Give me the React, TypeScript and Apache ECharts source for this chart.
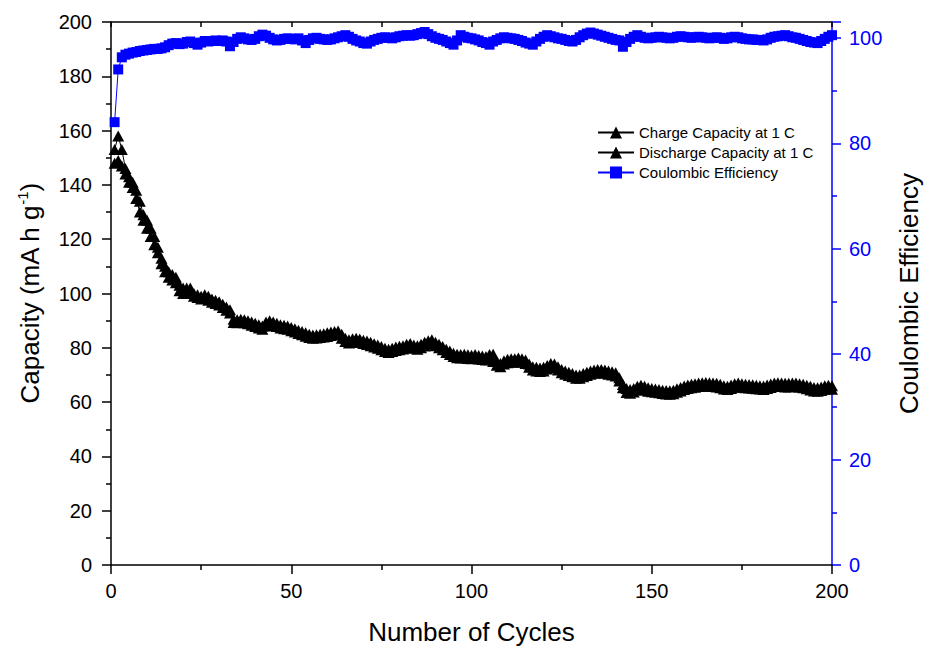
import React, { useEffect, useRef } from "react";
import * as echarts from "echarts";

const charge: number[] = [
  153, 158, 153, 146, 143, 141, 138, 134, 129, 127,
  124, 121, 117, 113, 110, 108, 107, 106, 103, 102,
  102, 102, 100, 99.5, 99, 99.5, 99, 98, 97.5, 97,
  96, 95, 94, 90.5, 90.3, 90.5, 90.3, 90, 89.5, 89,
  88.5, 88, 89.5, 90, 89.5, 89, 88.5, 88.3, 88, 87.5,
  87, 86.5, 86, 85.5, 85, 84.7, 84.8, 85, 85.2, 85.5,
  85.8, 86, 86.2, 85, 83.5, 83, 83.3, 83.5, 83.2, 82.8,
  82.5, 82, 81.5, 81, 80.5, 79.8, 79.5, 79.8, 80.3, 80.6,
  80.8, 81.3, 81.6, 81, 80.8, 81.3, 82, 82.6, 83, 82,
  81.3, 80.5, 79.5, 78.8, 78, 77.6, 77.5, 77.6, 77.4, 77.3,
  77.5, 77.2, 77, 76.8, 77.5, 77.6, 75, 74.2, 75.2, 75.8,
  76, 76, 76.2, 76, 75.5, 74, 73, 72.8, 72.6, 72.8,
  73.5, 74.2, 74, 73, 72, 71.5, 71, 70.5, 70, 70,
  70.5, 71, 71.5, 71.8, 72, 72, 71.8, 71.5, 71.2, 70.8,
  69, 66.5, 65, 64.6, 65, 65.8, 66.2, 65.8, 65.3, 65,
  64.8, 64.6, 64.4, 64.3, 64.2, 64.4, 64.9, 65.4, 65.9, 66.3,
  66.6, 66.8, 67, 67.1, 67.2, 67.1, 67, 66.9, 66.6, 66,
  65.8, 66.3, 66.8, 67, 66.8, 66.6, 66.5, 66.4, 66.2, 66,
  65.9, 66.3, 66.7, 67, 67.1, 67, 66.9, 66.9, 67, 67,
  66.8, 66.6, 66.2, 65.8, 65.4, 65.3, 65.6, 66, 66.2, 66,
];

const discharge: number[] = [
  148, 149, 147, 144, 141, 139, 135, 130, 127, 124,
  121, 118, 115, 111, 108, 106, 105, 104, 101, 100,
  100, 100, 99, 98.5, 98, 98.3, 97.5, 96.8, 96.3, 95.8,
  94.8, 93.8, 92.8, 89.3, 89.2, 89.4, 89.2, 88.9, 88.3, 87.8,
  87.3, 86.8, 88, 88.5, 88.2, 87.8, 87.3, 87, 86.8, 86.3,
  85.8, 85.3, 84.8, 84.3, 83.8, 83.5, 83.6, 83.8, 84, 84.2,
  84.5, 84.8, 85, 83.5, 82.3, 81.8, 82, 82.2, 82, 81.6,
  81.2, 80.8, 80.3, 79.8, 79.3, 78.6, 78.3, 78.6, 79, 79.3,
  79.6, 80, 80.3, 79.8, 79.5, 80, 80.7, 81.3, 81.6, 80.8,
  80, 79.3, 78.3, 77.5, 76.8, 76.3, 76.2, 76.3, 76.1, 76,
  76.2, 75.9, 75.7, 75.5, 75.6, 75, 73.6, 73, 74, 74.5,
  74.7, 74.8, 74.9, 74.7, 74.2, 72.8, 71.8, 71.5, 71.3, 71.5,
  72.2, 72.8, 72.7, 71.8, 70.8, 70.3, 69.8, 69.3, 68.8, 68.8,
  69.3, 69.8, 70.3, 70.6, 70.8, 70.8, 70.6, 70.3, 70, 69.6,
  67.8, 65.3, 63.5, 63.3, 63.7, 64.5, 64.8, 64.5, 64, 63.8,
  63.6, 63.4, 63.2, 63, 62.9, 63.1, 63.6, 64.1, 64.6, 65,
  65.3, 65.5, 65.7, 65.8, 65.9, 65.8, 65.7, 65.6, 65.3, 64.8,
  64.6, 65, 65.5, 65.7, 65.5, 65.3, 65.2, 65.1, 64.9, 64.8,
  64.6, 65, 65.4, 65.7, 65.8, 65.7, 65.6, 65.6, 65.7, 65.7,
  65.5, 65.3, 64.9, 64.5, 64.1, 64, 64.3, 64.7, 64.9, 64.7,
];

const efficiency: number[] = [
  84, 94, 96.3, 96.8, 97, 97.2, 97.3, 97.5, 97.6, 97.7,
  97.8, 97.9, 97.9, 98, 98.2, 98.6, 98.9, 99, 98.8, 98.9,
  99.2, 99.3, 99, 98.7, 99.1, 99.4, 99.3, 99.4, 99.5, 99.4,
  99.5, 99.3, 98.4, 99.2, 99.8, 100.1, 99.9, 99.7, 99.6, 99.8,
  100.3, 100.6, 100.4, 100, 99.7, 99.5, 99.6, 99.8, 99.9, 99.8,
  99.7, 99.9, 99.5, 99.0, 99.6, 99.9, 100, 99.8, 99.7, 99.6,
  99.7, 99.9, 100.1, 100.3, 100.5, 100.2, 99.8, 99.5, 99.3, 99.0,
  98.9, 99.3, 99.6, 99.8, 100, 100.1, 100, 99.9, 100.1, 100.3,
  100.4, 100.5, 100.4, 100.5, 100.7, 100.9, 101.1, 100.7, 100.3, 100,
  99.8, 99.6, 99.3, 99, 98.7, 99.5, 100.5, 100.2, 100, 99.9,
  99.7, 99.5, 99.2, 99, 98.7, 99.3, 99.6, 99.9, 100.1, 100,
  99.9, 99.8, 99.6, 99.4, 99.1, 98.9, 98.7, 99.3, 99.8, 100.2,
  100.5, 100.3, 100.1, 99.9, 99.8, 99.6, 99.4, 99.3, 99.6, 100.1,
  100.5, 100.8, 101, 100.8, 100.6, 100.4, 100.2, 100, 99.8, 99.6,
  99.5, 98.3, 99.2, 99.8, 100.2, 100.5, 100.2, 100, 99.9, 100,
  100.1, 100.2, 100.1, 100, 99.9, 100, 100.2, 100.3, 100.2, 100.1,
  100, 100.1, 100.2, 100.1, 100, 99.9, 100, 100.1, 100, 99.8,
  99.9, 100.1, 100.2, 100.1, 99.9, 99.8, 99.7, 99.7, 99.6, 99.6,
  99.5, 99.7, 100, 100.2, 100.3, 100.4, 100.5, 100.3, 100.1, 100,
  99.8, 99.6, 99.4, 99.2, 99.1, 99, 99.4, 99.8, 100.2, 100.5,
];

const cycles: number[] = charge.map((_, i) => i + 1);

const FONT = "'Liberation Sans', Arial, sans-serif";
const BLUE = "#0000ff";

export default function App() {
  const ref = useRef<HTMLDivElement>(null);

  useEffect(() => {
    document.body.style.margin = "0";
    if (!ref.current) return;
    const chart = echarts.init(ref.current, undefined, { renderer: "svg" });
    const pair = (arr: number[]) => cycles.map((c, i) => [c, arr[i]]);

    chart.setOption({
      animation: false,
      backgroundColor: "#ffffff",
      textStyle: { fontFamily: FONT },
      grid: { left: 111, right: 92, top: 22, bottom: 83, containLabel: false },
      legend: {
        orient: "vertical",
        left: 597,
        top: 125,
        padding: 0,
        itemWidth: 36,
        itemHeight: 15,
        itemGap: 5,
        textStyle: { fontFamily: FONT, fontSize: 15, color: "#000" },
        data: [
          "Charge Capacity at 1 C",
          "Discharge Capacity at 1 C",
          "Coulombic Efficiency",
        ],
      },
      xAxis: [
        {
          type: "value",
          min: 0,
          max: 200,
          interval: 50,
          position: "bottom",
          name: "Number of Cycles",
          nameLocation: "middle",
          nameGap: 54,
          nameTextStyle: { fontFamily: FONT, fontSize: 26, color: "#000" },
          axisLine: { show: true, onZero: false, lineStyle: { color: "#000", width: 1.5 } },
          axisTick: { show: true, inside: false, length: 9, lineStyle: { color: "#000", width: 1.5 } },
          minorTick: { show: true, splitNumber: 2, length: 5, lineStyle: { color: "#000", width: 1.5 } },
          axisLabel: { fontFamily: FONT, fontSize: 20, color: "#000", margin: 16 },
          splitLine: { show: false },
        },
        {
          type: "value",
          min: 0,
          max: 200,
          interval: 25,
          position: "top",
          axisLine: { show: true, onZero: false, lineStyle: { color: "#000", width: 1.5 } },
          axisTick: { show: true, inside: true, length: 5, lineStyle: { color: "#000", width: 1.5 } },
          axisLabel: { show: false },
          splitLine: { show: false },
        },
      ],
      yAxis: [
        {
          type: "value",
          min: 0,
          max: 200,
          interval: 20,
          position: "left",
          name: "Capacity (mA h g{sup|-1})",
          nameLocation: "middle",
          nameGap: 66,
          nameTextStyle: {
            fontFamily: FONT,
            fontSize: 26,
            color: "#000",
            rich: {
              sup: { fontFamily: FONT, fontSize: 15, color: "#000", verticalAlign: "top", lineHeight: 30 },
            },
          },
          axisLine: { show: true, onZero: false, lineStyle: { color: "#000", width: 1.5 } },
          axisTick: { show: true, inside: false, length: 9, lineStyle: { color: "#000", width: 1.5 } },
          minorTick: { show: true, splitNumber: 2, length: 5, lineStyle: { color: "#000", width: 1.5 } },
          axisLabel: { fontFamily: FONT, fontSize: 20, color: "#000", margin: 19 },
          splitLine: { show: false },
        },
        {
          type: "value",
          min: 0,
          max: 103,
          interval: 20,
          position: "right",
          name: "Coulombic Efficiency",
          nameLocation: "middle",
          nameGap: 64,
          nameTextStyle: { fontFamily: FONT, fontSize: 26, color: "#000" },
          axisLine: { show: true, onZero: false, lineStyle: { color: BLUE, width: 1.5 } },
          axisTick: { show: true, inside: false, length: 9, lineStyle: { color: BLUE, width: 1.5 } },
          minorTick: { show: true, splitNumber: 2, length: 5, lineStyle: { color: BLUE, width: 1.5 } },
          axisLabel: {
            fontFamily: FONT,
            fontSize: 20,
            color: BLUE,
            margin: 17,
            showMaxLabel: false,
            formatter: (v: number) => (v % 20 === 0 ? String(v) : ""),
          },
          splitLine: { show: false },
        },
      ],
      series: [
        {
          name: "Charge Capacity at 1 C",
          type: "line",
          xAxisIndex: 0,
          yAxisIndex: 0,
          data: pair(charge),
          symbol: "triangle",
          symbolSize: [12, 11],
          itemStyle: { color: "#000" },
          lineStyle: { color: "#000", width: 1 },
        },
        {
          name: "Discharge Capacity at 1 C",
          type: "line",
          xAxisIndex: 0,
          yAxisIndex: 0,
          data: pair(discharge),
          symbol: "triangle",
          symbolSize: [12, 11],
          itemStyle: { color: "#000" },
          lineStyle: { color: "#000", width: 1 },
        },
        {
          name: "Coulombic Efficiency",
          type: "line",
          xAxisIndex: 0,
          yAxisIndex: 1,
          data: pair(efficiency),
          symbol: "rect",
          symbolSize: 10,
          itemStyle: { color: BLUE },
          lineStyle: { color: BLUE, width: 1 },
        },
      ],
    });

    return () => chart.dispose();
  }, []);

  return <div ref={ref} style={{ width: 930, height: 650 }} />;
}
